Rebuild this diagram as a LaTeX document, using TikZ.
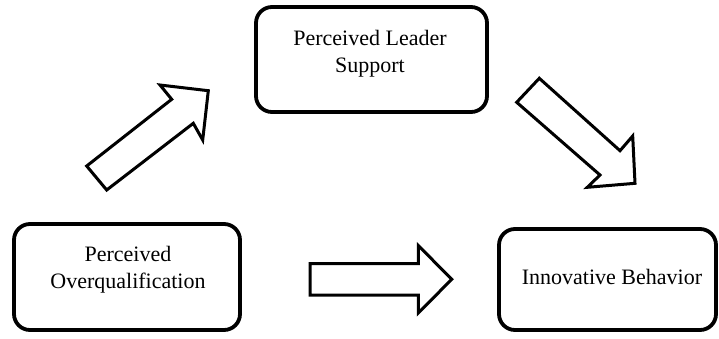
\documentclass[tikz,border=0pt]{standalone}
\usepackage{fontspec}
\setmainfont{Liberation Serif}
\begin{document}
\begin{tikzpicture}[x=1pt,y=-1pt,
  box/.style={draw=black,line width=3.8pt,rounded corners=16pt,fill=white},
  lbl/.style={font=\fontsize{22}{27}\selectfont,align=center,inner sep=0pt},
  blockarrow/.style={draw=black,line width=3pt,fill=white,line join=miter}]
\useasboundingbox[fill=white] (0,0) rectangle (719,338);
% boxes
\draw[box] (14,224) rectangle (240,330);
\draw[box] (256,7) rectangle (487,112);
\draw[box] (499,229) rectangle (716,330);
\node[lbl] (poq) at (128,270) {Perceived\\Overqualification};
\node[lbl] (pls) at (370,53.5) {Perceived Leader\\Support};
\node[lbl] (ib) at (612,277) {Innovative Behavior};
% block arrows
\draw[blockarrow] (86.7,166) -- (171.7,99.3) -- (160,85) -- (208.3,90.7) -- (202.7,140) -- (193.3,123.3) -- (106.7,190) -- cycle;
\draw[blockarrow] (516.7,102.3) -- (539.3,78.3) -- (620,150.7) -- (632.7,136) -- (635,183.3) -- (587.3,187.3) -- (600,175) -- cycle;
\draw[blockarrow] (310,263.5) -- (418.3,263.5) -- (418.3,245.5) -- (451.7,279.3) -- (418.3,313) -- (418.3,295) -- (310,295) -- cycle;
\end{tikzpicture}
\end{document}
